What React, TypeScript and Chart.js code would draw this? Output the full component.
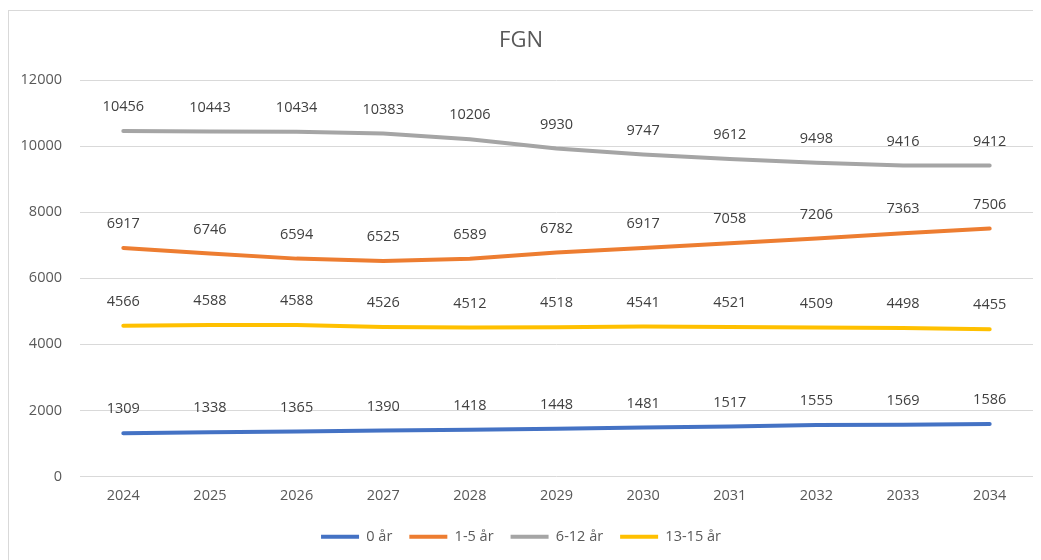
import React, { useEffect, useRef } from "react";
import { Chart, registerables } from "chart.js";

Chart.register(...registerables);

const years = ["2024", "2025", "2026", "2027", "2028", "2029", "2030", "2031", "2032", "2033", "2034"];
const age0 = [1309, 1338, 1365, 1390, 1418, 1448, 1481, 1517, 1555, 1569, 1586];
const age1to5 = [6917, 6746, 6594, 6525, 6589, 6782, 6917, 7058, 7206, 7363, 7506];
const age6to12 = [10456, 10443, 10434, 10383, 10206, 9930, 9747, 9612, 9498, 9416, 9412];
const age13to15 = [4566, 4588, 4588, 4526, 4512, 4518, 4541, 4521, 4509, 4498, 4455];
const seriesNames = ["0 år", "1-5 år", "6-12 år", "13-15 år"];
const seriesColors = ["#4472C4", "#ED7D31", "#A5A5A5", "#FFC000"];

const FONT = "'Open Sans', 'Noto Sans', sans-serif";

const labelPlugin = {
  id: "valueLabels",
  afterDatasetsDraw(chart: any) {
    const ctx = chart.ctx;
    ctx.save();
    ctx.font = `14.5px ${FONT}`;
    ctx.fillStyle = "#404040";
    ctx.textAlign = "center";
    ctx.textBaseline = "middle";
    chart.data.datasets.forEach((ds: any, i: number) => {
      const meta = chart.getDatasetMeta(i);
      meta.data.forEach((pt: any, j: number) => {
        ctx.fillText(String(ds.data[j]), pt.x, pt.y - 24);
      });
    });
    ctx.restore();
  },
};

export default function App() {
  const ref = useRef<HTMLCanvasElement>(null);
  useEffect(() => {
    document.body.style.overflow = "hidden";
    const values = [age0, age1to5, age6to12, age13to15];
    const chart = new Chart(ref.current!, {
      type: "line",
      data: {
        labels: years,
        datasets: values.map((v, i) => ({
          label: seriesNames[i],
          data: v,
          borderColor: seriesColors[i],
          backgroundColor: seriesColors[i],
          borderWidth: 4,
          borderCapStyle: "round" as const,
          pointRadius: 0,
          pointHoverRadius: 0,
          tension: 0,
        })),
      },
      options: {
        responsive: false,
        animation: false,
        layout: { padding: { top: 0, left: 0, right: 7, bottom: 6 } },
        plugins: {
          title: {
            display: true,
            text: "FGN",
            color: "#595959",
            font: { family: FONT, size: 22, weight: "normal" },
            padding: { top: 17, bottom: 25.6 },
          },
          legend: {
            position: "bottom",
            labels: {
              usePointStyle: true,
              pointStyle: "line",
              pointStyleWidth: 38,
              padding: 17,
              color: "#595959",
              font: { family: FONT, size: 14.5 },
            },
          },
          tooltip: { enabled: false },
        },
        scales: {
          x: {
            offset: true,
            grid: { display: false, drawTicks: false, offset: true },
            border: { display: false },
            ticks: { color: "#595959", font: { family: FONT, size: 14.5 }, padding: 11 },
            afterFit: (axis: any) => {
              axis.height = 36;
            },
          },
          y: {
            min: 0,
            max: 12000,
            ticks: {
              stepSize: 2000,
              color: "#595959",
              font: { family: FONT, size: 14.5 },
              padding: 18,
              callback: (v: any) => String(v),
            },
            grid: { color: "#d9d9d9", lineWidth: 1, drawTicks: false },
            border: { display: false },
            afterFit: (axis: any) => {
              axis.width = 71;
            },
          },
        },
      },
      plugins: [labelPlugin],
    });
    return () => chart.destroy();
  }, []);
  return (
    <div style={{ marginTop: 2, width: 1040, height: 560, border: "1px solid #d9d9d9", background: "#fff" }}>
      <canvas ref={ref} width={1031} height={549} style={{ display: "block" }} />
    </div>
  );
}
